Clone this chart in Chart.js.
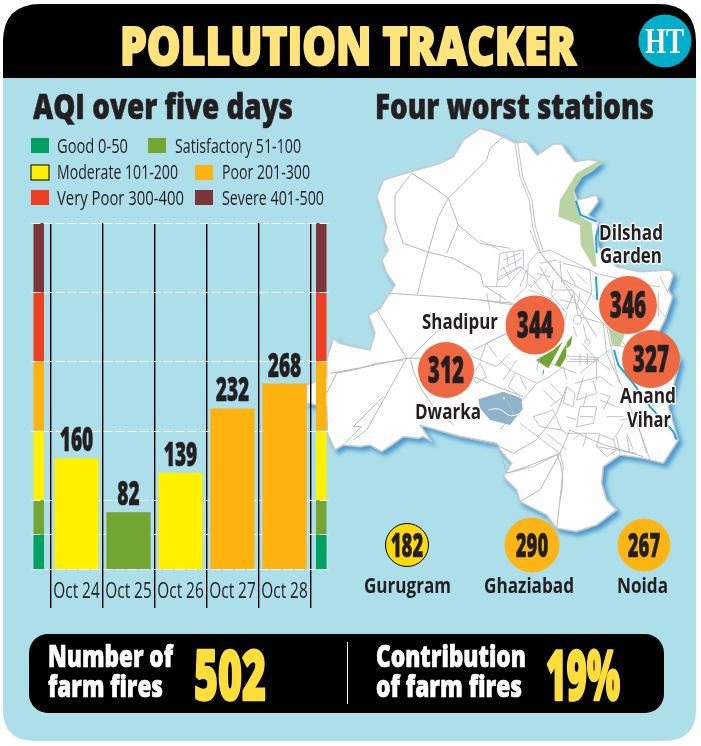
<!DOCTYPE html>
<html>
<head>
<meta charset="utf-8">
<title>Pollution tracker</title>
<script src="https://cdn.jsdelivr.net/npm/chart.js@4"></script>
<style>
  html, body { margin: 0; padding: 0; background: #fff; }
  #page { position: relative; width: 701px; height: 746px; overflow: hidden; }
  #page svg, #page canvas { position: absolute; left: 0; top: 0; }
  #mapShadow { filter: drop-shadow(10px 11px 7px rgba(40,130,195,.75)); }
</style>
</head>
<body>
<div id="page">
  <svg id="bg" width="701" height="746" xmlns="http://www.w3.org/2000/svg">
    <path d="M3 42 Q3 4 41 4 H658 Q696 4 696 42 V709 Q696 741 664 741 H35 Q3 741 3 709 Z" fill="#ADDFEB"/>
    <path d="M3 78 V42 Q3 4 41 4 H658 Q696 4 696 42 V78 Z" fill="#000"/>
    <circle cx="665" cy="41" r="26.5" fill="#00AECB"/>
    <rect x="29" y="634" width="635" height="79" rx="19" fill="#000"/>
    <line x1="347.5" y1="642" x2="347.5" y2="704" stroke="#fff" stroke-width="1"/>

    <!-- map, traced by eye; units are 1/3 px -->
    <g transform="translate(340,120) scale(.3333)">
      <path id="mapShadow" fill="#fff" stroke="#C6CACC" stroke-width="5" stroke-linejoin="round"
        d="M420,25 L455,35 490,50 525,68 560,65 575,85 592,105 640,72 665,72 680,95 705,125 745,118 785,125 760,150 725,170 700,210 712,240 770,225 775,245 745,285 775,305 770,340 775,380 830,440 900,455 990,450 1000,465 985,510 998,530 975,600 955,640 1020,720 1000,800 985,860 1015,960 970,1030 910,1015 840,1005 790,1040 785,1090 800,1140 830,1170 770,1215 710,1235 650,1225 620,1185 540,1145 530,1110 490,1070 515,1030 480,990 470,970 360,950 240,915 275,965 250,950 235,955 190,950 155,975 125,995 90,975 60,980 10,975 -15,990 -38,940 -40,860 -100,850 -100,795 -40,770 -40,720 -20,655 0,670 40,680 90,690 105,640 85,585 120,565 165,495 140,460 125,420 145,390 130,360 140,320 110,230 130,180 210,155 300,130 340,110 370,60 Z"/>
      <path fill="#B9D4A2" d="M655,290 L660,240 710,160 780,120 790,130 725,170 700,215 722,290 755,310 770,440 760,440 722,375 720,315 Z M805,625 L855,640 840,680 815,672 Z"/>
      <path fill="none" stroke="#1BA6DB" stroke-width="6" d="M708,242 L722,285 770,305 M778,320 L768,350 770,400 M768,470 L772,540 M822,690 L835,735 880,790 930,860 1000,935 1010,960"/>
      <path fill="#70A62F" d="M588,720 L640,690 668,665 625,745 600,728 Z M645,735 L668,690 680,672 678,712 660,742 Z M680,668 L698,645 692,675 682,685 Z M606,765 L612,745 612,760 Z"/>
      <path fill="#8FB3CB" d="M415,838 L490,815 545,835 548,868 510,915 450,900 420,865 Z"/>
      <path fill="none" stroke="#fff" stroke-width="3" d="M445,870 Q480,860 495,878 T540,880 M492,832 v6 M489,835 h6"/>
      <g fill="none" stroke="#B5B9BC" stroke-width="3" stroke-linejoin="round">
        <path d="M490,50 L450,85 440,120 370,190 325,235 270,195 215,160 165,225 165,300 190,370 260,395"/>
        <path d="M325,235 L295,290 265,395 245,470 232,525 M325,235 L355,315 320,400 M355,315 L420,370 510,385"/>
        <path d="M260,395 L340,415 420,460 430,495 500,540 M150,520 L300,530 420,540 520,550"/>
        <path d="M110,570 L200,715 240,715 M200,715 L80,740 -30,760 M200,715 L80,930 40,960"/>
        <path d="M-40,820 L-10,760 50,748 110,730 190,720 M130,830 L40,920 65,920 15,970 M210,715 L290,635 410,590"/>
        <path d="M212,720 Q225,790 280,860 L340,915 M400,690 L500,640 M400,770 L470,800 550,830"/>
        <path d="M360,950 L470,975 520,1000 590,960 650,880 680,800 M540,1145 L600,1110 660,1000 690,930"/>
        <path d="M650,1000 Q680,1060 660,1140 L650,1225 M500,1060 L560,1040 660,1000 M690,930 L780,970 910,1010"/>
      </g>
      <g fill="none" stroke="#B5B9BC" stroke-width="2.6" stroke-linejoin="round">
        <path d="M525,68 L540,170 568,240 578,320 602,400 650,460 740,560 800,620 830,760 910,960 930,1020"/>
        <path d="M533,68 L548,170 576,240 586,320 610,395"/>
        <path d="M420,730 L440,770 410,790 395,770 Z M420,720 L380,700 M440,670 L470,710 M500,640 L440,670 420,720 470,740 510,700"/>
        <path d="M800,620 L860,680 M810,675 L860,680 M765,460 L860,480 M960,470 L985,520 M870,490 L960,500 M950,560 L975,590 M955,520 L955,590"/>
        <path d="M840,900 L900,890 M860,950 L870,1000 M830,950 L840,1000"/>
        <!-- north of the centre -->
        <g transform="translate(420,330)">
          <path d="M60,70 L130,60 130,110 80,170 50,170 Z M70,90 L120,70 M60,120 L125,85 M55,150 L125,110 M80,70 L85,110 M100,65 L110,120 M70,110 L90,150 M50,170 L15,170"/>
          <path d="M0,30 L60,60 M170,70 L210,60 310,110 350,130 M170,70 L145,100 140,170 100,210 M150,0 L175,60 240,140 300,240 350,320"/>
          <path d="M0,210 L100,225 M180,100 L230,90 M240,90 L245,160 M250,150 L330,190 350,210 M150,180 L220,210 M200,120 L150,175"/>
          <path d="M170,130 L210,140 M160,150 L190,190 M260,120 L290,170 M290,130 L320,160 M220,150 L215,190 M300,190 L290,240 M20,190 L30,240 M60,190 L60,220 M240,210 L290,220"/>
        </g>
        <!-- centre and south -->
        <g transform="translate(480,420)">
          <path d="M0,130 L30,125 M240,170 L310,190 320,280 360,370 M232,165 a12,14 0 1 0 1,0 M250,195 L262,245"/>
          <path d="M262,237 a8,8 0 1 0 1,0 M290,292 a6,6 0 1 0 1,0 M290,298 L210,298 M290,298 L245,250 M290,298 L330,330 M290,298 L240,340 M290,298 L290,360 M290,298 L330,270 M200,288 L285,292 M200,305 L285,305 M240,280 L240,315 M262,280 L262,315"/>
          <path d="M30,330 L110,370 60,430 M45,340 L25,380 60,410 M110,370 L150,350 190,320 M150,370 L190,410 150,440 M200,380 L190,430 220,440 225,400 Z"/>
          <path d="M225,370 L300,350 340,380 M250,350 L230,420 290,400 280,360 M240,440 L230,500 280,490 290,440 Z M300,400 L330,410 310,450 M100,470 L160,450 185,510 120,500 Z"/>
          <path d="M200,520 L290,520 340,540 370,490 M290,560 L350,570 320,590 Z M350,570 L410,580 M20,420 L40,460 0,510 M60,490 L180,580 190,620 180,720 M0,570 L20,640 100,620 180,580 M240,520 L220,540 M410,480 L440,580"/>
          <path d="M120,20 L160,90 220,90 235,170 M190,10 L270,30 275,100 240,170 M0,50 L60,20 110,60 M80,30 L60,80 M150,100 L200,160 190,200 M220,100 L200,150 M230,230 L220,200"/>
          <path d="M190,320 L200,360 M230,340 L150,310 M110,330 L120,290 M60,350 L80,390 M130,390 L170,430 M300,420 L350,440 M320,470 L370,470 M250,440 L260,400 M240,470 L280,470 M200,470 L230,480 M200,520 L185,510 M140,520 L200,570 M260,520 L250,560 M300,520 L290,560 M340,540 L350,570 M380,520 L400,570"/>
          <path d="M10,360 L50,300 M0,300 L30,330 M170,100 L130,130 M120,140 L170,170"/>
        </g>
      </g>
    </g>
  </svg>
  <canvas id="bars" width="701" height="746"></canvas>
  <canvas id="stations" width="701" height="746"></canvas>
  <svg id="labels" width="701" height="746" xmlns="http://www.w3.org/2000/svg"></svg>
</div>

<script>
// bars
const days = ['Oct 24', 'Oct 25', 'Oct 26', 'Oct 27', 'Oct 28'];
const aqi = [160, 82, 139, 232, 268];

// AQI bands
const bandNames = ['Good 0-50', 'Satisfactory 51-100', 'Moderate 101-200', 'Poor 201-300', 'Very Poor 300-400', 'Severe 401-500'];
const bandLimits = [0, 50, 100, 200, 300, 400, 500];
const bandColors = ['#00A160', '#73A532', '#FFF100', '#FDB20F', '#EF4023', '#7D3538'];

// map stations
const stationNames = ['Dilshad Garden', 'Shadipur', 'Anand Vihar', 'Dwarka'];
const stationAqi = [346, 344, 327, 312];
const stationMapX = [628, 535, 651, 446];
const stationMapY = [305, 325, 359, 370];

// NCR cities below the map
const cityNames = ['Gurugram', 'Ghaziabad', 'Noida'];
const cityAqi = [182, 290, 267];
const cityMapX = [407, 532, 644];
const cityMapY = [545, 545, 545];

const farmFires = 502;
const farmShare = '19%';

const INK = '#231F20';
const FACE = '"Open Sans", "Noto Sans", sans-serif';

function bandColor(v) {
  for (let i = 1; i < bandLimits.length; i++) {
    if (v <= bandLimits[i]) return bandColors[i - 1];
  }
  return bandColors[bandColors.length - 1];
}

// condensed text on canvas, squeezed to look like the print face
function drawSqueezed(ctx, txt, x, y, font, sx, heavy) {
  ctx.save();
  ctx.translate(x, y);
  ctx.scale(sx, 1);
  ctx.font = font;
  ctx.textAlign = 'center';
  ctx.textBaseline = 'alphabetic';
  ctx.fillStyle = INK;
  ctx.fillText(txt, 0, 0);
  if (heavy) {
    ctx.strokeStyle = INK;
    ctx.lineWidth = heavy;
    ctx.strokeText(txt, 0, 0);
  }
  ctx.restore();
}

const bandStrips = {
  id: 'bandStrips',
  beforeDatasetsDraw(chart) {
    const { ctx, chartArea, scales: { y } } = chart;
    ctx.save();
    // colour strips either side of the plot
    [chartArea.left - 17, chartArea.right + 5.5].forEach(x => {
      bandColors.forEach((c, i) => {
        const top = y.getPixelForValue(bandLimits[i + 1]);
        const bottom = y.getPixelForValue(bandLimits[i]);
        ctx.fillStyle = c;
        ctx.fillRect(x, top, 10.5, bottom - top);
      });
    });
    // white dashes at each band limit
    ctx.strokeStyle = '#fff';
    ctx.lineWidth = 1.2;
    ctx.setLineDash([9, 3]);
    bandLimits.forEach(v => {
      const py = Math.round(y.getPixelForValue(v)) + 0.5;
      ctx.beginPath();
      ctx.moveTo(chartArea.left - 19, py);
      ctx.lineTo(chartArea.right + 19, py);
      ctx.stroke();
    });
    ctx.restore();
  },
  afterDatasetsDraw(chart) {
    const { ctx, scales: { x } } = chart;
    chart.getDatasetMeta(0).data.forEach((bar, i) => {
      drawSqueezed(ctx, String(aqi[i]), bar.x, bar.y - 7, '800 33px ' + FACE, 0.58, 0.5);
    });
    // tick labels go inside the long tick marks
    days.forEach((d, i) => {
      drawSqueezed(ctx, d, x.getPixelForValue(i), 598, '400 22px ' + FACE, 0.7);
    });
  }
};

new Chart(document.getElementById('bars'), {
  type: 'bar',
  plugins: [bandStrips],
  data: {
    labels: days,
    datasets: [{
      data: aqi,
      backgroundColor: aqi.map(bandColor),
      barPercentage: 0.85,
      categoryPercentage: 1
    }]
  },
  options: {
    responsive: false,
    animation: false,
    devicePixelRatio: 1,
    layout: { padding: { left: 50.5, right: 390.5, top: 223, bottom: 138 } },
    plugins: { legend: { display: false }, tooltip: { enabled: false } },
    scales: {
      y: { display: false, min: 0, max: 500 },
      x: {
        afterFit(s) { s.height = 39; },
        border: { display: false },
        grid: { color: '#000', tickColor: '#000', lineWidth: 1.4, tickLength: 39, offset: true },
        ticks: { display: false }
      }
    }
  }
});

const circleNumbers = {
  id: 'circleNumbers',
  afterDatasetsDraw(chart) {
    const ctx = chart.ctx;
    chart.getDatasetMeta(0).data.forEach((pt, i) => {
      drawSqueezed(ctx, String(stationAqi[i]), pt.x, pt.y + 13, '800 37px ' + FACE, 0.56, 0.5);
    });
    chart.getDatasetMeta(1).data.forEach((pt, i) => {
      drawSqueezed(ctx, String(cityAqi[i]), pt.x, pt.y + 12, '800 33px ' + FACE, 0.56, 0.5);
    });
  }
};

new Chart(document.getElementById('stations'), {
  type: 'bubble',
  plugins: [circleNumbers],
  data: {
    datasets: [
      {
        data: stationAqi.map((v, i) => ({ x: stationMapX[i], y: stationMapY[i] })),
        radius: [29, 29.5, 29, 28],
        backgroundColor: 'rgba(239,96,56,.95)',
        borderWidth: 0
      },
      {
        data: cityAqi.map((v, i) => ({ x: cityMapX[i], y: cityMapY[i] })),
        radius: [21.5, 27, 26],
        backgroundColor: ['#FFDA0A', '#FDB515', '#FDB515'],
        borderColor: ['#000', '#FDB515', '#FDB515'],
        borderWidth: 1
      }
    ]
  },
  options: {
    responsive: false,
    animation: false,
    devicePixelRatio: 1,
    layout: { padding: 0, autoPadding: false },
    plugins: { legend: { display: false }, tooltip: { enabled: false } },
    scales: {
      x: { display: false, min: 0, max: 701 },
      y: { display: false, min: 0, max: 746, reverse: true }
    }
  }
});

// svg text fitted between two x positions
const labels = document.getElementById('labels');
function text(str, x0, x1, y, size, opts) {
  const o = opts || {};
  const t = document.createElementNS('http://www.w3.org/2000/svg', 'text');
  t.textContent = str;
  t.setAttribute('x', x0);
  t.setAttribute('y', y);
  t.setAttribute('textLength', x1 - x0);
  t.setAttribute('lengthAdjust', 'spacingAndGlyphs');
  t.setAttribute('font-family', o.family || FACE);
  t.setAttribute('font-size', size);
  t.setAttribute('font-weight', o.weight || '700');
  t.setAttribute('fill', o.fill || INK);
  if (o.stroke) {
    t.setAttribute('stroke', o.stroke);
    t.setAttribute('stroke-width', o.sw || 1);
    t.setAttribute('paint-order', 'stroke');
    t.setAttribute('stroke-linejoin', 'round');
  }
  labels.appendChild(t);
}
function swatch(x, y, w, c, edge) {
  const r = document.createElementNS('http://www.w3.org/2000/svg', 'rect');
  r.setAttribute('x', x);
  r.setAttribute('y', y);
  r.setAttribute('width', w);
  r.setAttribute('height', 15);
  r.setAttribute('fill', c);
  if (edge) { r.setAttribute('stroke', '#000'); r.setAttribute('stroke-width', 1); }
  labels.appendChild(r);
}

text('POLLUTION TRACKER', 120, 576, 65, 53, { weight: '800', fill: '#FFE47B', stroke: '#FFE47B', sw: 2.2 });
text('HT', 645, 684, 53, 36, { family: '"Liberation Serif", serif', fill: '#fff' });

text('AQI over five days', 33, 293, 119, 35, { weight: '800', stroke: INK, sw: 0.6 });
text('Four worst stations', 375, 654, 119, 35, { weight: '800', stroke: INK, sw: 0.6 });

// legend
const legendPos = [[31, 138, 57, 128, 153], [148, 138, 175, 301, 153], [31, 165, 57, 178, 179], [195, 165, 222, 310, 179], [31, 190, 57, 184, 205], [195, 190, 222, 324, 205]];
bandNames.forEach((name, i) => {
  const p = legendPos[i];
  swatch(p[0], p[1], 18, bandColors[i], i === 2);
  text(name, p[2], p[3], p[4], 20, { weight: '400' });
});

// station and city names
const halo = { stroke: '#fff', sw: 3 };
text(stationNames[0].split(' ')[0], 599, 663, 240, 22, halo);
text(stationNames[0].split(' ')[1], 600, 662, 263, 22, halo);
text(stationNames[1], 422, 498, 329, 22, halo);
text(stationNames[2].split(' ')[0], 620, 676, 403, 22, halo);
text(stationNames[2].split(' ')[1], 627, 671, 427, 22, halo);
text(stationNames[3], 415, 481, 419, 22, halo);
text(cityNames[0], 364, 451, 593, 22);
text(cityNames[1], 484, 574, 593, 22);
text(cityNames[2], 617, 668, 593, 22);

// bottom strip
const white = { weight: '800', fill: '#fff', stroke: '#fff', sw: 0.7 };
const yellow = { weight: '800', fill: '#FFDE3B', stroke: '#FFDE3B', sw: 2.6 };
text('Number of', 48, 173, 667, 30, white);
text('farm fires', 48, 163, 697, 30, white);
text(String(farmFires), 194, 266, 700, 69, yellow);
text('Contribution', 376, 526, 667, 30, white);
text('of farm fires', 376, 522, 697, 30, white);
text(farmShare, 546, 620, 700, 69, yellow);
</script>
</body>
</html>
